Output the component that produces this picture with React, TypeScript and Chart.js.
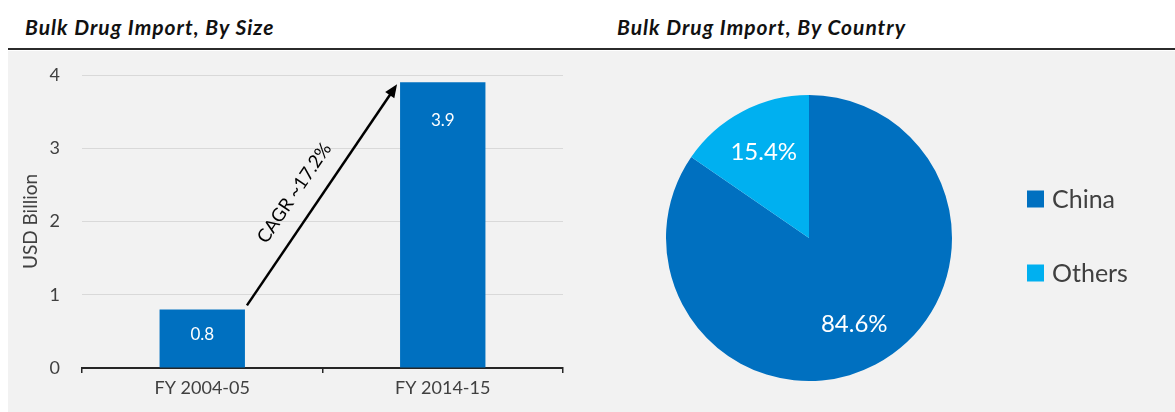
import React, { useEffect, useRef } from "react";
import { Chart, registerables } from "chart.js";

Chart.register(...registerables);

const leftTitle = "Bulk Drug Import, By Size";
const rightTitle = "Bulk Drug Import, By Country";
const barCategories = ["FY 2004-05", "FY 2014-15"];
const barValues = [0.8, 3.9];
const yTickValues = [0, 1, 2, 3, 4];
const yAxisTitle = "USD Billion";
const cagrLabel = "CAGR ~17.2%";
const pieLabels = ["China", "Others"];
const pieValues = [84.6, 15.4];

const BLUE = "#0070C0";
const LIGHT_BLUE = "#00B0F0";
const GREY_TEXT = "#404040";
const FONT = "Lato, 'Noto Sans', sans-serif";

const barExtras = {
  id: "barExtras",
  afterDatasetsDraw(chart: any) {
    const ctx = chart.ctx;
    const meta = chart.getDatasetMeta(0);
    ctx.save();
    // value labels
    ctx.fillStyle = "#ffffff";
    ctx.font = `17px ${FONT}`;
    ctx.textAlign = "center";
    ctx.textBaseline = "middle";
    meta.data.forEach((el: any, i: number) => {
      const p = el.getProps(["x", "y", "base"], true);
      const off = Math.min(38, (p.base - p.y) / 2 - 4);
      ctx.fillText(barValues[i].toFixed(1), p.x, p.y + off);
    });
    // arrow
    const b0 = meta.data[0].getProps(["x", "y", "width"], true);
    const b1 = meta.data[1].getProps(["x", "y", "width"], true);
    const sx = b0.x + b0.width / 2 + 2;
    const sy = b0.y - 4;
    const ex = b1.x - b1.width / 2 - 3;
    const ey = b1.y + 2;
    const ang = Math.atan2(ey - sy, ex - sx);
    const c = Math.cos(ang);
    const s = Math.sin(ang);
    const head = 13;
    const hw = 5.5;
    ctx.strokeStyle = "#000";
    ctx.lineWidth = 2.5;
    ctx.beginPath();
    ctx.moveTo(sx, sy);
    ctx.lineTo(ex - c * head * 0.8, ey - s * head * 0.8);
    ctx.stroke();
    ctx.fillStyle = "#000";
    ctx.beginPath();
    ctx.moveTo(ex, ey);
    ctx.lineTo(ex - head * c + hw * s, ey - head * s - hw * c);
    ctx.lineTo(ex - head * c - hw * s, ey - head * s + hw * c);
    ctx.closePath();
    ctx.fill();
    // CAGR text
    const mx = (sx + ex) / 2 - c * 14;
    const my = (sy + ey) / 2 - s * 14;
    const nx = s;
    const ny = -c;
    ctx.translate(mx + nx * 18, my + ny * 18);
    ctx.rotate(ang);
    ctx.font = `18.5px ${FONT}`;
    ctx.textAlign = "center";
    ctx.textBaseline = "alphabetic";
    ctx.fillText(cagrLabel, 0, 0);
    ctx.restore();
  },
};

const pieExtras = {
  id: "pieExtras",
  afterDatasetsDraw(chart: any) {
    const ctx = chart.ctx;
    const meta = chart.getDatasetMeta(0);
    ctx.save();
    ctx.fillStyle = "#ffffff";
    ctx.font = `24px ${FONT}`;
    ctx.textAlign = "center";
    ctx.textBaseline = "middle";
    meta.data.forEach((el: any, i: number) => {
      const p = el.getProps(["x", "y", "startAngle", "endAngle", "outerRadius"], true);
      const mid = (p.startAngle + p.endAngle) / 2;
      const r = p.outerRadius * 0.68;
      ctx.fillText(pieValues[i].toFixed(1) + "%", p.x + Math.cos(mid) * r, p.y + Math.sin(mid) * r);
    });
    // legend
    const area = chart.chartArea;
    const cy = (area.top + area.bottom) / 2;
    const lx = area.right + 75;
    const colors = [BLUE, LIGHT_BLUE];
    ctx.font = `25px ${FONT}`;
    ctx.textAlign = "left";
    ctx.textBaseline = "middle";
    pieLabels.forEach((lab, i) => {
      const y = cy - 39 + i * 74;
      ctx.fillStyle = colors[i];
      ctx.fillRect(lx, y - 8.5, 17, 17);
      ctx.fillStyle = GREY_TEXT;
      ctx.fillText(lab, lx + 25, y + 1);
    });
    ctx.restore();
  },
};

export default function App() {
  const barRef = useRef<HTMLCanvasElement>(null);
  const pieRef = useRef<HTMLCanvasElement>(null);

  useEffect(() => {
    const bar = new Chart(barRef.current!, {
      type: "bar",
      data: {
        labels: barCategories,
        datasets: [
          {
            data: barValues,
            backgroundColor: BLUE,
            borderWidth: 0,
            barPercentage: 0.355,
            categoryPercentage: 1,
          },
        ],
      },
      options: {
        animation: false,
        responsive: false,
        layout: { padding: { top: 24, right: 37, left: 0, bottom: 0 } },
        plugins: { legend: { display: false }, tooltip: { enabled: false } },
        scales: {
          y: {
            min: 0,
            max: 4,
            afterBuildTicks: (sc: any) => {
              sc.ticks = yTickValues.map((v) => ({ value: v }));
            },
            afterFit: (sc: any) => {
              sc.width = 82;
              sc.paddingTop = 0;
              sc.paddingBottom = 0;
            },
            ticks: { color: GREY_TEXT, font: { size: 18, family: FONT }, padding: 22 },
            grid: { color: "#D9D9D9", lineWidth: 1, drawTicks: false },
            border: { display: false },
            title: {
              display: true,
              text: yAxisTitle,
              color: GREY_TEXT,
              font: { size: 19, family: FONT },
              padding: { top: 19, bottom: 0 },
            },
          },
          x: {
            afterFit: (sc: any) => {
              sc.height = 44;
            },
            grid: {
              display: true,
              drawOnChartArea: false,
              drawTicks: true,
              tickLength: 5,
              color: "#262626",
              lineWidth: 1.5,
              offset: true,
            },
            border: { display: true, color: "#262626", width: 2 },
            ticks: { color: GREY_TEXT, font: { size: 18, family: FONT }, padding: 4 },
          },
        },
      },
      plugins: [barExtras],
    } as any);

    const pie = new Chart(pieRef.current!, {
      type: "pie",
      data: {
        labels: pieLabels,
        datasets: [{ data: pieValues, backgroundColor: [BLUE, LIGHT_BLUE], borderWidth: 0 }],
      },
      options: {
        animation: false,
        responsive: false,
        layout: { padding: { left: 66, right: 223, top: 44, bottom: 31 } },
        plugins: { legend: { display: false }, tooltip: { enabled: false } },
      },
      plugins: [pieExtras],
    } as any);

    return () => {
      bar.destroy();
      pie.destroy();
    };
  }, []);

  const titleStyle: React.CSSProperties = {
    position: "absolute",
    top: 15,
    fontFamily: FONT,
    fontWeight: 700,
    fontStyle: "italic",
    fontSize: 21,
    letterSpacing: "1px",
    lineHeight: "24px",
    color: "#111",
    whiteSpace: "nowrap",
  };

  return (
    <div
      style={{
        position: "absolute",
        left: 0,
        top: 0,
        width: 1175,
        height: 412,
        background: "#ffffff",
        overflow: "hidden",
      }}
    >
      <div style={{ ...titleStyle, left: 25 }}>{leftTitle}</div>
      <div style={{ ...titleStyle, left: 617 }}>{rightTitle}</div>
      <div style={{ position: "absolute", left: 8, top: 48, width: 1167, height: 2, background: "#2b2b2b" }} />
      <div style={{ position: "absolute", left: 8, top: 51, width: 1167, height: 361, background: "#F2F2F2" }} />
      <canvas ref={barRef} width={600} height={361} style={{ position: "absolute", left: 0, top: 51 }} />
      <canvas ref={pieRef} width={575} height={361} style={{ position: "absolute", left: 600, top: 51 }} />
    </div>
  );
}
